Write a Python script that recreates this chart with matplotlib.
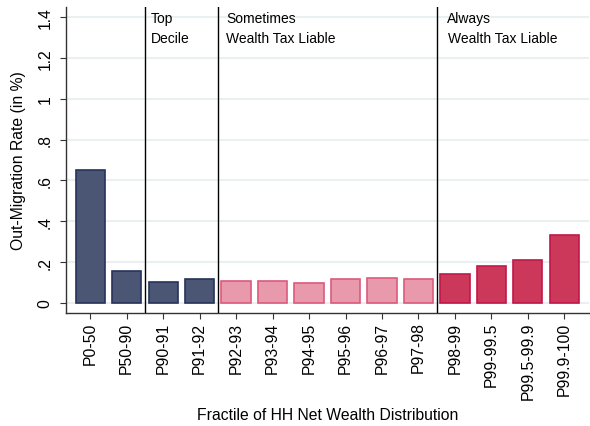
import numpy as np
import matplotlib.pyplot as plt

plt.rcParams['font.family'] = ['Liberation Sans', 'DejaVu Sans']

fractiles = ['P0-50', 'P50-90', 'P90-91', 'P91-92', 'P92-93', 'P93-94', 'P94-95',
             'P95-96', 'P96-97', 'P97-98', 'P98-99', 'P99-99.5', 'P99.5-99.9', 'P99.9-100']
rates = [0.653, 0.158, 0.101, 0.119, 0.109, 0.109, 0.100,
         0.119, 0.121, 0.116, 0.140, 0.180, 0.209, 0.331]
groups = ['bottom', 'bottom', 'top', 'top', 'some', 'some', 'some',
          'some', 'some', 'some', 'always', 'always', 'always', 'always']

fill = {'bottom': '#4a5674', 'top': '#4a5674', 'some': '#e89aac', 'always': '#cc385a'}
edge = {'bottom': '#26335a', 'top': '#26335a', 'some': '#dc5a7c', 'always': '#c2164a'}

fig = plt.figure(figsize=(5.9, 4.27), dpi=100)
ax = fig.add_axes([0.1114, 0.2658, 0.8866, 0.7155])

x = np.arange(len(fractiles))
ax.bar(x, rates, width=0.8, color=[fill[g] for g in groups],
       edgecolor=[edge[g] for g in groups], linewidth=1.2, zorder=3)

ax.set_xlim(-0.67, 13.67)
ax.set_ylim(-0.0465, 1.449)
ax.set_yticks(np.arange(0, 1.41, 0.2))
ax.set_yticklabels(['0', '.2', '.4', '.6', '.8', '1', '1.2', '1.4'], rotation=90, va='center')
ax.set_xticks(x)
ax.set_xticklabels(fractiles, rotation=90)
ax.tick_params(axis='both', labelsize=11.3, length=4.5, width=0.8, color='#333333')
ax.tick_params(axis='y', pad=5)
ax.tick_params(axis='x', pad=2)

ax.grid(axis='y', color='#eaf0f2', linewidth=1.5, zorder=0)
ax.set_axisbelow(True)
for s in ['top', 'right']:
    ax.spines[s].set_visible(False)
for s in ['left', 'bottom']:
    ax.spines[s].set_color('#333333')
    ax.spines[s].set_linewidth(1.0)

for xv in [1.5, 3.5, 9.5]:
    ax.axvline(xv, color='black', linewidth=1.0, zorder=4)

ax.text(1.665, 1.395, 'Top', fontsize=10, va='center')
ax.text(1.665, 1.295, 'Decile', fontsize=10, va='center')
ax.text(3.72, 1.395, 'Sometimes', fontsize=10, va='center')
ax.text(3.72, 1.295, 'Wealth Tax Liable', fontsize=10, va='center')
ax.text(9.79, 1.395, 'Always', fontsize=10, va='center')
ax.text(9.82, 1.295, 'Wealth Tax Liable', fontsize=10, va='center')

ax.set_ylabel('Out-Migration Rate (in %)', fontsize=11.3, labelpad=8)
ax.set_xlabel('Fractile of HH Net Wealth Distribution', fontsize=11.3, labelpad=6)

fig.savefig('out.png', dpi=100)
